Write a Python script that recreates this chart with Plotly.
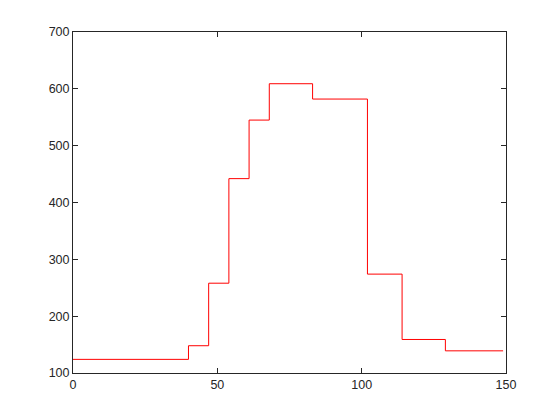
import plotly.graph_objects as go

x_vals = [0, 40, 47, 54, 61, 68, 83, 102, 114, 129, 149]
y_vals = [124, 148, 258, 442, 545, 609, 582, 274, 159, 139, 139]
x_ticks = [0, 50, 100, 150]
y_ticks = [100, 200, 300, 400, 500, 600, 700]

fig = go.Figure()
fig.add_trace(go.Scatter(
    x=x_vals, y=y_vals, mode="lines",
    line=dict(color="#ff0000", width=1, shape="hv"),
    showlegend=False, hoverinfo="skip",
))

axis_common = dict(
    showgrid=False, zeroline=False, showline=True, linecolor="#262626", linewidth=1,
    mirror="ticks", ticks="inside", ticklen=5, tickcolor="#262626", tickwidth=1,
    tickfont=dict(family="Liberation Sans, Arial, sans-serif", size=12.5, color="#262626"),
)

fig.update_layout(
    width=552, height=412,
    margin=dict(l=65, r=54, t=24, b=47),
    paper_bgcolor="white", plot_bgcolor="white",
    xaxis=dict(range=[0, 150], tickvals=x_ticks, ticktext=[str(v) for v in x_ticks], **axis_common),
    yaxis=dict(range=[100, 700], tickvals=y_ticks, ticktext=[str(v) for v in y_ticks], **axis_common),
)

fig.write_html("out.html")
